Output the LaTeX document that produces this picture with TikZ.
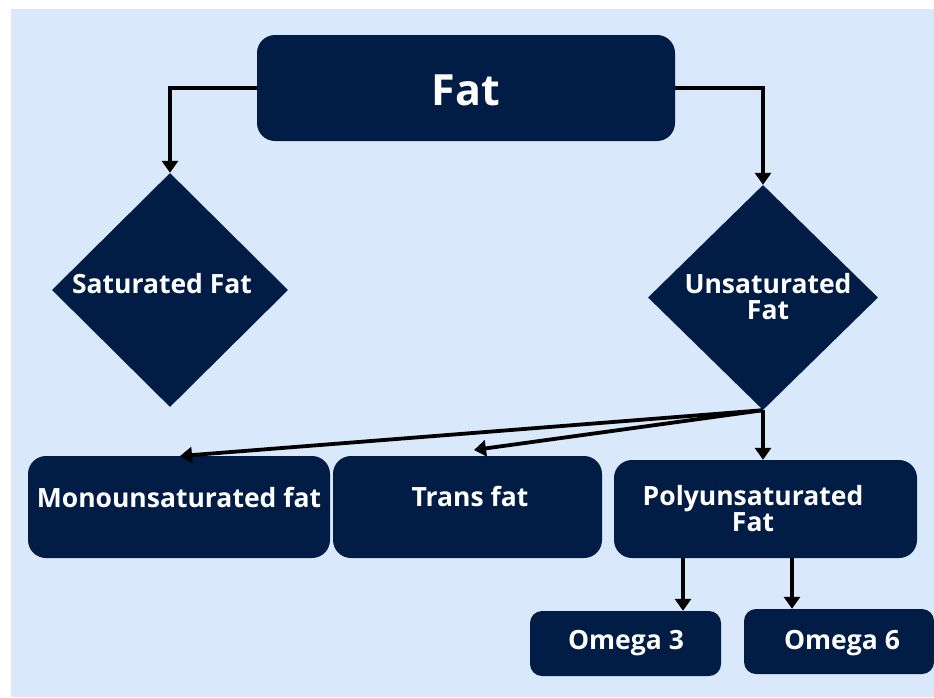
\documentclass[tikz,border=0pt]{standalone}
\usepackage{fontspec}
\setmainfont{Open Sans}
\usetikzlibrary{shapes.geometric,arrows.meta}
\definecolor{bgblue}{HTML}{DAE8FC}
\definecolor{navy}{HTML}{021D45}
\begin{document}
\begin{tikzpicture}[x=1pt,y=-1pt,
  box/.style={fill=navy,draw=none,rounded corners=18pt,inner sep=0pt},
  dia/.style={diamond,fill=navy,draw=none,inner sep=0pt},
  lbl/.style={text=white,font=\fontsize{26.5}{26}\selectfont\bfseries,align=center,inner sep=0pt},
  conn/.style={line width=3.8pt,-{Triangle[width=16pt,length=12pt]}}]
\useasboundingbox (0,0) rectangle (934,697);
\fill[white] (0,0) rectangle (934,697);
\fill[bgblue] (11,9) rectangle (934,697);
% nodes
\node[box,minimum width=418pt,minimum height=106pt] (fat) at (466,88) {};
\node[lbl,font=\fontsize{43}{45}\selectfont\bfseries] (fatt) at (466,90) {Fat};
\node[dia,minimum width=236pt,minimum height=234pt] (sat) at (170,290) {};
\node[lbl] (satt) at (162,284) {Saturated Fat};
\node[dia,minimum width=230pt,minimum height=225pt] (uns) at (763,297.5) {};
\node[lbl] (unst) at (768,297) {Unsaturated\\Fat};
\node[box,minimum width=302pt,minimum height=102pt] (mono) at (179,507) {};
\node[lbl] (monot) at (179,497) {Monounsaturated fat};
\node[box,minimum width=269pt,minimum height=102pt] (trans) at (467.5,507) {};
\node[lbl] (transt) at (470,496) {Trans fat};
\node[box,minimum width=303pt,minimum height=98pt] (poly) at (765.5,509) {};
\node[lbl] (polyt) at (753,509) {Polyunsaturated\\Fat};
\node[box,minimum width=191pt,minimum height=65pt,rounded corners=12pt] (om3) at (625.5,643.5) {};
\node[lbl] (om3t) at (626,643) {Omega 3};
\node[box,minimum width=190pt,minimum height=65pt,rounded corners=12pt] (om6) at (839,641.5) {};
\node[lbl] (om6t) at (842,643) {Omega 6};
% connectors
\draw[conn] (fat.west |- 0,88) -| (sat.north);
\draw[conn] (fat.east |- 0,88) -| (uns.north);
\coordinate (monotip) at (180,456);
\coordinate (transtip) at (474,450);
\draw[conn] (uns.south) -- (monotip);
\draw[conn] (uns.south) -- (transtip);
\draw[conn] (uns.south) -- (poly.north -| uns.south);
\draw[conn] (poly.south -| 683,0) -- (om3.north -| 683,0);
\draw[conn] (poly.south -| 792,0) -- (om6.north -| 792,0);
\end{tikzpicture}
\end{document}
